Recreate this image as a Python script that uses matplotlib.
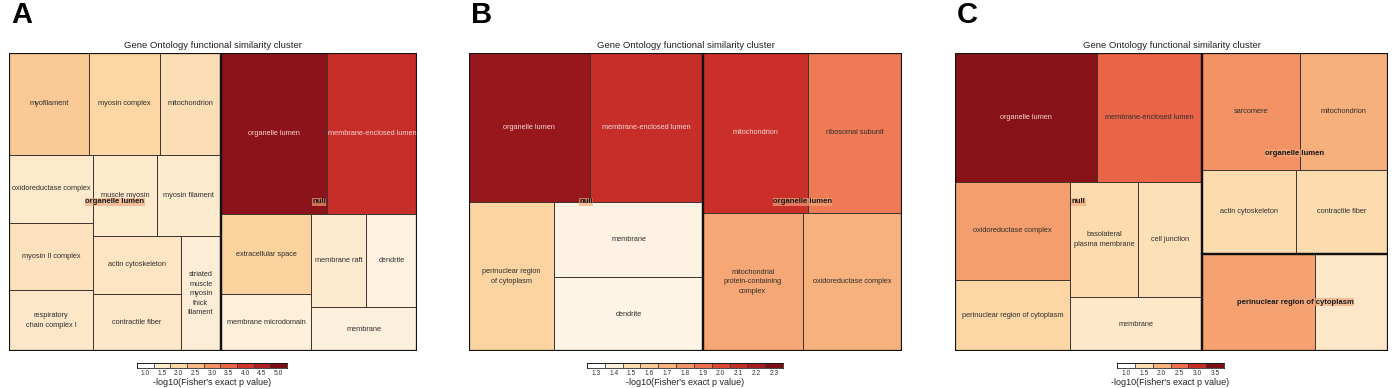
import matplotlib
matplotlib.use("Agg")
import matplotlib.pyplot as plt
from matplotlib.colors import LinearSegmentedColormap, Normalize, to_rgb
from matplotlib.patches import Rectangle

plt.rcParams["font.family"] = ["Liberation Sans", "DejaVu Sans"]

# shared palette (white -> orange -> dark red)
cmap = LinearSegmentedColormap.from_list(
    "orrd", ["#FFFFFF", "#FDEBD0", "#FCD6A4", "#F9BB86", "#F39465",
             "#EA6549", "#D2352B", "#B01F24", "#7B0D14"])

# ---------------- panel A ----------------
a_terms = ["myofilament", "myosin complex", "mitochondrion",
           "oxidoreductase complex", "myosin II complex", "respiratory\nchain complex I",
           "muscle myosin", "myosin filament", "actin cytoskeleton", "contractile fiber",
           "striated\nmuscle\nmyosin\nthick\nfilament",
           "organelle lumen", "membrane-enclosed lumen", "extracellular space",
           "membrane microdomain", "membrane raft", "dendrite", "membrane"]
a_size = [81.7, 72.8, 62.5, 56.9, 56.5, 51.2, 51.8, 51.8, 50.6, 50.0, 46.3,
          171.0, 146.0, 72.2, 51.2, 51.2, 47.2, 46.2]
a_logp = [2.24, 2.0, 1.8, 1.56, 1.72, 1.6, 1.55, 1.5, 1.65, 1.6, 1.45,
          4.84, 4.16, 2.08, 1.42, 1.5, 1.35, 1.38]
a_ticks = [1.0, 1.5, 2.0, 2.5, 3.0, 3.5, 4.0, 4.5, 5.0]
# split tree: "h" = side by side, "v" = stacked, "g" = cluster
a_tree = ("h", [
    ("g", "organelle lumen", [("v", [("h", [0, 1, 2]),
                                     ("h", [("v", [3, 4, 5]),
                                            ("v", [("h", [6, 7]),
                                                   ("h", [("v", [8, 9]), 10])])])])]),
    ("g", "null", [("v", [("h", [11, 12]),
                          ("h", [("v", [13, 14]),
                                 ("v", [("h", [15, 16]), 17])])])]),
])

# ---------------- panel B ----------------
b_terms = ["organelle lumen", "membrane-enclosed lumen", "perinuclear region\nof cytoplasm",
           "membrane", "dendrite",
           "mitochondrion", "ribosomal subunit",
           "mitochondrial\nprotein-containing\ncomplex", "oxidoreductase complex"]
b_size = [180.8, 169.7, 126.8, 111.5, 109.6, 168.2, 150.6, 137.9, 137.3]
b_logp = [2.23, 2.09, 1.56, 1.38, 1.37, 2.08, 1.87, 1.74, 1.71]
b_ticks = [1.3, 1.4, 1.5, 1.6, 1.7, 1.8, 1.9, 2.0, 2.1, 2.2, 2.3]
b_tree = ("h", [
    ("g", "null", [("v", [("h", [0, 1]), ("h", [2, ("v", [3, 4])])])]),
    ("g", "organelle lumen", [("v", [("h", [5, 6]), ("h", [7, 8])])]),
])

# ---------------- panel C ----------------
c_terms = ["organelle lumen", "membrane-enclosed lumen", "oxidoreductase complex",
           "perinuclear region of cytoplasm", "basolateral\nplasma membrane",
           "cell junction", "membrane",
           "sarcomere", "mitochondrion", "actin cytoskeleton", "contractile fiber",
           "", ""]  # last two labels are covered by the cluster label
c_size = [183.5, 135.3, 113.4, 81.3, 79.0, 73.6, 70.9,
          114.5, 103.1, 79.0, 77.5, 110.2, 70.5]
c_logp = [3.42, 2.57, 2.18, 1.62, 1.55, 1.48, 1.37,
          2.25, 2.03, 1.55, 1.55, 2.15, 1.38]
c_ticks = [1.0, 1.5, 2.0, 2.5, 3.0, 3.5]
c_tree = ("h", [
    ("g", "null", [("v", [("h", [0, 1]),
                          ("h", [("v", [2, 3]), ("v", [("h", [4, 5]), 6])])])]),
    ("v", [
        ("g", "organelle lumen", [("v", [("h", [7, 8]), ("h", [9, 10])])]),
        ("g", "perinuclear region of cytoplasm", [("h", [11, 12])]),
    ]),
])


def size_of(node, sizes):
    if isinstance(node, int):
        return sizes[node]
    return sum(size_of(c, sizes) for c in node[-1])


def layout(node, x, y, w, h, sizes, cells, groups):
    if isinstance(node, int):
        cells[node] = (x, y, w, h)
        return
    if node[0] == "g":
        groups.append((node[1], x, y, w, h))
        layout(node[2][0], x, y, w, h, sizes, cells, groups)
        return
    kids = node[1]
    tot = sum(size_of(k, sizes) for k in kids)
    pos = 0.0
    for k in kids:
        f = size_of(k, sizes) / tot
        if node[0] == "h":
            layout(k, x + pos * w, y, f * w, h, sizes, cells, groups)
        else:
            layout(k, x, y + pos * h, w, f * h, sizes, cells, groups)
        pos += f


def draw_treemap(ax, terms, sizes, logp, tree, ticks):
    norm = Normalize(ticks[0], ticks[-1])
    cells, groups = {}, []
    layout(tree, 0, 0, 1, 1, sizes, cells, groups)
    for i, (x, y, w, h) in cells.items():
        col = cmap(norm(logp[i]))
        ax.add_patch(Rectangle((x, y), w, h, facecolor=col, edgecolor="#3d3530", lw=0.7))
        r, g, b = to_rgb(col)
        lum = 0.299 * r + 0.587 * g + 0.114 * b
        tc = "#F3D6D2" if lum < 0.45 else "#2f2f2f"
        ax.text(x + w / 2, y + h / 2, terms[i], ha="center", va="center",
                fontsize=5.3, color=tc, linespacing=1.5)
    for lab, x, y, w, h in groups:
        ax.add_patch(Rectangle((x, y), w, h, fill=False, edgecolor="#111111", lw=1.6))
        ax.text(x + w / 2, y + h / 2, lab, ha="center", va="center", fontsize=5.6,
                fontweight="bold", color="#1a1a1a",
                bbox=dict(boxstyle="square,pad=0.05", facecolor="#F2A77C",
                          edgecolor="none", alpha=0.65))
    ax.set_xlim(0, 1)
    ax.set_ylim(1, 0)
    ax.axis("off")


def draw_colorbar(cax, ticks):
    norm = Normalize(ticks[0], ticks[-1])
    step = ticks[1] - ticks[0]
    cax.bar(ticks, 1, width=step, color=[cmap(norm(t)) for t in ticks],
            edgecolor="#333333", lw=0.5)
    cax.set_xlim(ticks[0] - step / 2, ticks[-1] + step / 2)
    cax.set_ylim(0, 1)
    cax.set_yticks([])
    cax.set_xticks(ticks, [f"{t:.1f}" for t in ticks])
    cax.tick_params(axis="x", length=0, pad=1.5, labelsize=4.8, labelcolor="#333333")
    for s in cax.spines.values():
        s.set_linewidth(0.5)
    cax.set_xlabel("-log10(Fisher's exact p value)", fontsize=6.5, labelpad=1.0,
                   color="#222222")


W, H = 1393, 388
fig = plt.figure(figsize=(W / 100, H / 100), dpi=100)

panels = [
    ("A", a_terms, a_size, a_logp, a_tree, a_ticks, (9, 417), (137, 287)),
    ("B", b_terms, b_size, b_logp, b_tree, b_ticks, (469, 902), (587, 783)),
    ("C", c_terms, c_size, c_logp, c_tree, c_ticks, (955, 1388), (1117, 1224)),
]
top, bottom = 52.5, 351
for letter, terms, sizes, logp, tree, ticks, (x0, x1), (c0, c1) in panels:
    ax = fig.add_axes([x0 / W, (H - bottom) / H, (x1 - x0) / W, (bottom - top) / H])
    draw_treemap(ax, terms, sizes, logp, tree, ticks)
    fig.text((x0 + x1) / 2 / W, 1 - 45 / H, "Gene Ontology functional similarity cluster",
             ha="center", va="center", fontsize=6.8, color="#222222")
    fig.text((x0 + 2) / W, 1 - 15 / H, letter, ha="left", va="center",
             fontsize=21, fontweight="bold")
    cax = fig.add_axes([c0 / W, (H - 368) / H, (c1 - c0) / W, 4.6 / H])
    draw_colorbar(cax, ticks)

fig.savefig("out.png", dpi=100)
